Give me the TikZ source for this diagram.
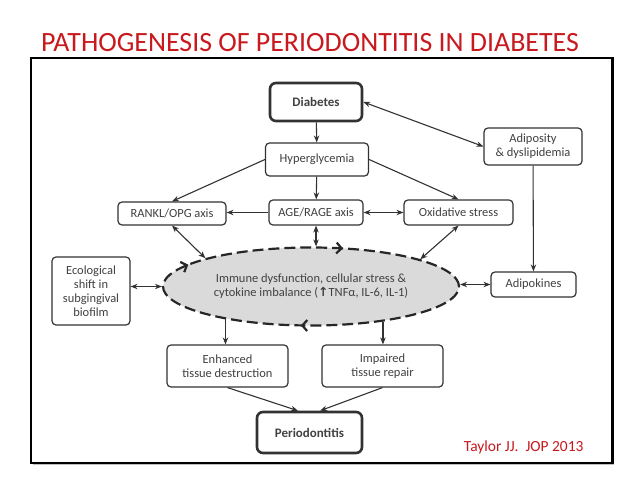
\documentclass[tikz,border=0pt]{standalone}
\usepackage{fontspec}
\setmainfont{Carlito}
\newfontfamily\pfeilschrift{DejaVu Sans}
\usetikzlibrary{arrows.meta,shapes.geometric,decorations.markings}
\definecolor{titelrot}{RGB}{200,25,30}
\definecolor{liniengrau}{RGB}{50,50,50}
\definecolor{textgrau}{RGB}{65,65,65}
\definecolor{ellipsengrau}{RGB}{218,218,218}
\tikzset{
  kasten/.style={draw=liniengrau, line width=1.2pt, rounded corners=4pt, text=textgrau,
    align=center, inner sep=0pt, font=\fontsize{12.5}{14}\selectfont},
  hauptkasten/.style={kasten, line width=2.6pt, rounded corners=6pt,
    font=\fontsize{13}{15}\selectfont\bfseries},
  pfeil/.style={draw=liniengrau, line width=1.1pt, -{Stealth[length=7pt,width=5.5pt]}},
  dpfeil/.style={pfeil, {Stealth[length=7pt,width=5.5pt]}-{Stealth[length=7pt,width=5.5pt]}},
  kreisspitze/.style={decoration={markings,
      mark=at position 0.2 with {\arrowreversed{Straight Barb[length=5pt,width=11pt]}},
      mark=at position 0.445 with {\arrowreversed{Straight Barb[length=5pt,width=11pt]}},
      mark=at position 0.734 with {\arrowreversed{Straight Barb[length=5pt,width=11pt]}}}}
}
\begin{document}
\begin{tikzpicture}[x=1bp, y=-1bp]
  \useasboundingbox (0,0) rectangle (638,479);
  % Titel
  \node[text=titelrot, font=\fontsize{28}{30}\selectfont, anchor=base] (titel) at (310,52)
    {PATHOGENESIS OF PERIODONTITIS IN DIABETES};
  % Rahmen mit Schatten
  \fill[black!25] (33,60) rectangle (614,465);
  \fill[white] (31,58) rectangle (612,463);
  \draw[line width=3pt] (31,58) rectangle (612,463);

  % Hauptkaesten
  \node[hauptkasten, minimum width=92bp, minimum height=38bp] (dia) at (316,102) {Diabetes};
  \node[hauptkasten, minimum width=105bp, minimum height=41bp] (per) at (309.5,432.5) {Periodontitis};

  % uebrige Kaesten
  \node[kasten, minimum width=103bp, minimum height=33bp] (hyp) at (317,159.5) {Hyperglycemia};
  \node[kasten, minimum width=94bp, minimum height=25bp] (age) at (316,212.5) {AGE/RAGE axis};
  \node[kasten, minimum width=108bp, minimum height=23bp] (rankl) at (172,213.5) {RANKL/OPG axis};
  \node[kasten, minimum width=109bp, minimum height=25bp] (oxi) at (458.5,212.5) {Oxidative stress};
  \node[kasten, minimum width=98bp, minimum height=37bp] (adi) at (533,146.5) {Adiposity\\ \& dyslipidemia};
  \node[kasten, minimum width=85bp, minimum height=25bp] (adk) at (533.5,284.5) {Adipokines};
  \node[kasten, minimum width=78bp, minimum height=68bp] (eco) at (91,291)
    {Ecological\\ shift in\\ subgingival\\ biofilm};
  \node[kasten, minimum width=121bp, minimum height=42bp] (enh) at (227.5,366) {Enhanced\\ tissue destruction};
  \node[kasten, minimum width=121bp, minimum height=42bp] (imp) at (382.5,366) {Impaired\\ tissue repair};

  % Ellipse in der Mitte
  \node[ellipse, draw=black!85, dash pattern=on 11pt off 5pt, line width=2.2pt, fill=ellipsengrau,
    minimum width=296bp, minimum height=78bp, inner sep=0pt, text=textgrau, align=center,
    font=\fontsize{12.5}{14}\selectfont, kreisspitze, postaction={decorate}] (imm) at (311,286.5)
    {Immune dysfunction, cellular stress \&\\ cytokine imbalance ({\pfeilschrift\bfseries ↑}TNFα, IL-6, IL-1)};

  % einfache Pfeile
  \foreach \a/\b in {dia/hyp, hyp/age, adi/adk} {
    \draw[pfeil] (\a) -- (\b);
  }
  \draw[pfeil] (hyp.west) -- (rankl.north);
  \draw[pfeil] (hyp.east) -- (oxi.north);
  \draw[pfeil] (age.west) -- (age.west -| rankl.east);
  \draw[pfeil] (imm.201.6) -- (imm.201.6 |- enh.north);
  \draw[pfeil] (imm.334.3) -- (imm.334.3 |- imp.north);
  \draw[pfeil] (enh.south) -- (per.118);
  \draw[pfeil] (imp.south) -- (per.64);

  % Doppelpfeile
  \draw[dpfeil] (dia.east) -- (adi.west);
  \draw[dpfeil] (age.east) -- (oxi.west);
  \draw[dpfeil] (age.south) -- (age.south |- imm.north);
  \draw[dpfeil] (rankl.south) -- (imm.165);
  \draw[dpfeil] (oxi.south) -- (imm.14);
  \draw[dpfeil] (eco.east |- imm.west) -- (imm.west);
  \draw[dpfeil] (adk.west) -- (adk.west -| imm.east);

  % Quelle
  \node[text=titelrot, font=\fontsize{15.5}{17}\selectfont, anchor=base east] (quelle) at (587,451)
    {Taylor JJ.\ \ JOP 2013};
\end{tikzpicture}
\end{document}
